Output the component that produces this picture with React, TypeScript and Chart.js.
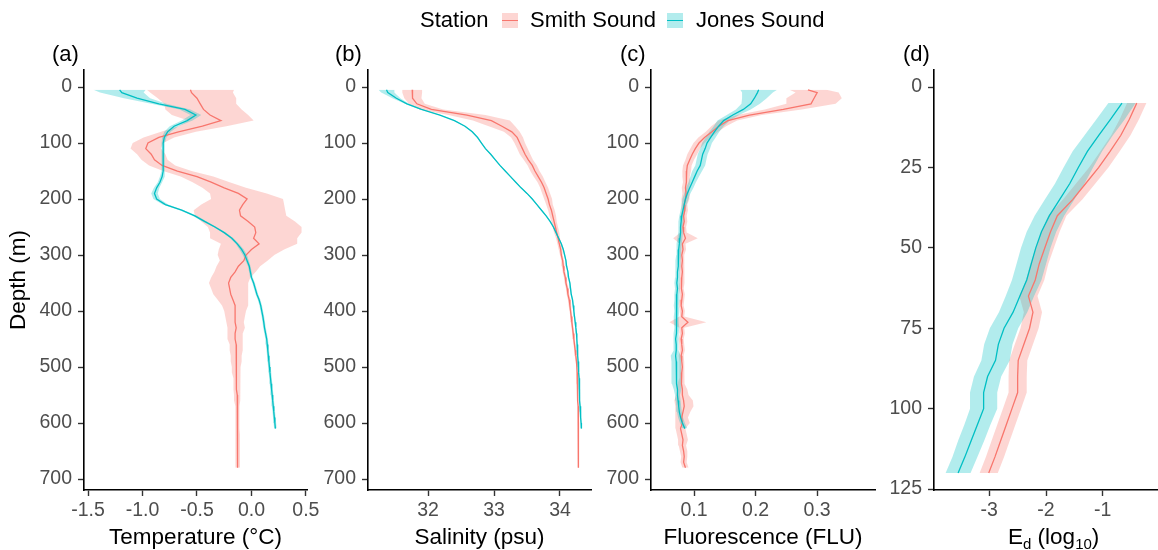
import React, { useEffect, useRef } from "react";
import { Chart, registerables } from "chart.js";

Chart.register(...registerables);
Chart.defaults.font.family = "'Liberation Sans', Arial, sans-serif";

const SMITH_COLOR = "#F8766D";
const JONES_COLOR = "#00BFC4";
const SMITH_FILL = "rgba(248,118,109,0.3)";
const JONES_FILL = "rgba(0,191,196,0.3)";

// ---------- depth grids (m) ----------
const depthSmith = [5, 10, 20, 30, 40, 50, 60, 70, 80, 90,
  100, 110, 120, 130, 140, 150, 160, 170, 180, 190,
  200, 210, 220, 230, 240, 250, 260, 270, 280, 290,
  300, 310, 320, 330, 340, 350, 360, 370, 380, 390,
  400, 410, 420, 430, 440, 450, 460, 470, 480, 490,
  500, 510, 520, 530, 540, 550, 560, 570, 580, 590,
  600, 610, 620, 630, 640, 650, 660, 670, 680];
const depthJones = [5, 10, 20, 30, 40, 50, 60, 70, 80, 90,
  100, 110, 120, 130, 140, 150, 160, 170, 180, 190,
  200, 210, 220, 230, 240, 250, 260, 270, 280, 290,
  300, 310, 320, 330, 340, 350, 360, 370, 380, 390,
  400, 410, 420, 430, 440, 450, 460, 470, 480, 490,
  500, 510, 520, 530, 540, 550, 560, 570, 580, 590,
  600, 610];
const depthEd = [5, 10, 15, 20, 25, 30, 35, 40, 45, 50, 55, 60,
  65, 70, 75, 80, 85, 90, 95, 100, 105, 110, 115, 120];

// ---------- (a) temperature ----------
const tempSmith = [-0.56, -0.55, -0.50, -0.47, -0.44, -0.38, -0.28, -0.45, -0.67, -0.85,
  -0.95, -0.97, -0.92, -0.89, -0.82, -0.68, -0.50, -0.37, -0.25, -0.12,
  -0.04, -0.08, -0.11, -0.10, -0.03, 0.03, 0.04, 0.02, 0.07, 0.00,
  -0.05, -0.07, -0.12, -0.15, -0.19, -0.21, -0.20, -0.19, -0.17, -0.15,
  -0.15, -0.15, -0.15, -0.14, -0.15, -0.15, -0.14, -0.14, -0.14, -0.14,
  -0.14, -0.14, -0.135, -0.135, -0.135, -0.13, -0.13, -0.13, -0.13, -0.13,
  -0.13, -0.13, -0.125, -0.125, -0.125, -0.125, -0.125, -0.125, -0.125];
const tempSmithSd = [0.40, 0.38, 0.36, 0.33, 0.35, 0.35, 0.30, 0.22, 0.16, 0.14,
  0.14, 0.14, 0.13, 0.12, 0.12, 0.13, 0.15, 0.17, 0.20, 0.26,
  0.33, 0.38, 0.42, 0.42, 0.43, 0.43, 0.42, 0.40, 0.35, 0.30,
  0.26, 0.22, 0.20, 0.19, 0.18, 0.18, 0.17, 0.16, 0.14, 0.12,
  0.10, 0.09, 0.08, 0.08, 0.07, 0.07, 0.06, 0.06, 0.05, 0.05,
  0.04, 0.04, 0.03, 0.03, 0.03, 0.03, 0.03, 0.02, 0.02, 0.02,
  0.02, 0.02, 0.02, 0.02, 0.02, 0.02, 0.02, 0.02, 0.02];
const tempJones = [-1.21, -1.19, -1.05, -0.85, -0.61, -0.51, -0.59, -0.71, -0.77, -0.80,
  -0.81, -0.81, -0.81, -0.81, -0.81, -0.81, -0.82, -0.84, -0.87, -0.89,
  -0.87, -0.79, -0.64, -0.52, -0.43, -0.335, -0.25, -0.18, -0.13, -0.09,
  -0.06, -0.04, -0.02, -0.01, 0.00, 0.02, 0.035, 0.05, 0.07, 0.085,
  0.095, 0.105, 0.113, 0.12, 0.13, 0.14, 0.145, 0.15, 0.155, 0.16,
  0.165, 0.17, 0.175, 0.18, 0.185, 0.19, 0.195, 0.20, 0.205, 0.21,
  0.215, 0.22];
const tempJonesSd = [0.24, 0.20, 0.12, 0.07, 0.05, 0.05, 0.05, 0.04, 0.03, 0.02,
  0.015, 0.015, 0.015, 0.015, 0.015, 0.015, 0.02, 0.02, 0.025, 0.03,
  0.03, 0.025, 0.02, 0.02, 0.02, 0.015, 0.015, 0.015, 0.015, 0.02,
  0.02, 0.015, 0.012, 0.012, 0.012, 0.012, 0.012, 0.012, 0.012, 0.012,
  0.012, 0.012, 0.012, 0.012, 0.012, 0.012, 0.012, 0.012, 0.012, 0.012,
  0.012, 0.012, 0.012, 0.012, 0.012, 0.012, 0.012, 0.012, 0.012, 0.012,
  0.012, 0.012];

// ---------- (b) salinity ----------
const salSmith = [31.76, 31.76, 31.77, 31.83, 32.05, 32.59, 32.96, 33.12, 33.27, 33.35,
  33.39, 33.43, 33.47, 33.52, 33.58, 33.62, 33.67, 33.72, 33.76, 33.79,
  33.82, 33.84, 33.87, 33.89, 33.91, 33.93, 33.95, 33.97, 33.99, 34.01,
  34.02, 34.04, 34.05, 34.06, 34.08, 34.09, 34.11, 34.12, 34.14, 34.15,
  34.16, 34.17, 34.18, 34.19, 34.20, 34.21, 34.22, 34.23, 34.24, 34.25,
  34.255, 34.26, 34.26, 34.265, 34.27, 34.27, 34.27, 34.275, 34.275, 34.275,
  34.28, 34.28, 34.28, 34.28, 34.28, 34.28, 34.28, 34.28, 34.28];
const salSmithSd = [0.15, 0.15, 0.13, 0.12, 0.18, 0.28, 0.28, 0.20, 0.12, 0.09,
  0.08, 0.08, 0.08, 0.07, 0.07, 0.07, 0.07, 0.06, 0.06, 0.06,
  0.06, 0.05, 0.05, 0.05, 0.04, 0.04, 0.04, 0.03, 0.03, 0.03,
  0.02, 0.02, 0.02, 0.02, 0.02, 0.02, 0.02, 0.02, 0.02, 0.02,
  0.015, 0.015, 0.015, 0.015, 0.015, 0.015, 0.015, 0.015, 0.015, 0.015,
  0.01, 0.01, 0.01, 0.01, 0.01, 0.01, 0.01, 0.01, 0.01, 0.01,
  0.01, 0.01, 0.01, 0.01, 0.01, 0.01, 0.01, 0.01, 0.01];
const salJones = [31.37, 31.39, 31.52, 31.68, 31.90, 32.18, 32.40, 32.56, 32.67, 32.75,
  32.81, 32.87, 32.95, 33.02, 33.09, 33.17, 33.25, 33.33, 33.41, 33.50,
  33.58, 33.65, 33.72, 33.79, 33.85, 33.90, 33.94, 33.98, 34.02, 34.05,
  34.07, 34.09, 34.10, 34.12, 34.13, 34.15, 34.16, 34.17, 34.19, 34.20,
  34.21, 34.22, 34.23, 34.24, 34.25, 34.255, 34.26, 34.265, 34.27, 34.275,
  34.28, 34.285, 34.29, 34.29, 34.295, 34.30, 34.30, 34.305, 34.31, 34.315,
  34.32, 34.325];
const salJonesSd = [0.12, 0.10, 0.06, 0.03, 0.02, 0.015, 0.015, 0.015, 0.015, 0.015,
  0.01, 0.01, 0.01, 0.01, 0.01, 0.01, 0.01, 0.01, 0.01, 0.01,
  0.01, 0.01, 0.01, 0.01, 0.01, 0.01, 0.01, 0.01, 0.01, 0.01,
  0.01, 0.01, 0.01, 0.01, 0.01, 0.01, 0.01, 0.01, 0.01, 0.01,
  0.01, 0.01, 0.01, 0.01, 0.01, 0.01, 0.01, 0.01, 0.01, 0.01,
  0.01, 0.01, 0.01, 0.01, 0.01, 0.01, 0.01, 0.01, 0.01, 0.01,
  0.01, 0.01];

// ---------- (c) fluorescence ----------
const fluSmith = [0.285, 0.300, 0.295, 0.290, 0.245, 0.190, 0.155, 0.140, 0.129, 0.117,
  0.108, 0.102, 0.097, 0.093, 0.089, 0.088, 0.087, 0.088, 0.086, 0.087,
  0.086, 0.084, 0.085, 0.083, 0.084, 0.082, 0.083, 0.086, 0.081, 0.082,
  0.080, 0.081, 0.080, 0.081, 0.080, 0.080, 0.079, 0.081, 0.080, 0.079,
  0.081, 0.080, 0.090, 0.080, 0.081, 0.079, 0.080, 0.081, 0.079, 0.080,
  0.081, 0.080, 0.080, 0.079, 0.081, 0.081, 0.083, 0.084, 0.082, 0.080,
  0.081, 0.078, 0.080, 0.082, 0.081, 0.083, 0.084, 0.083, 0.086];
const fluSmithSd = [0.030, 0.035, 0.045, 0.040, 0.030, 0.020, 0.015, 0.012, 0.010, 0.010,
  0.009, 0.008, 0.008, 0.007, 0.007, 0.007, 0.006, 0.006, 0.006, 0.006,
  0.006, 0.005, 0.005, 0.005, 0.005, 0.005, 0.005, 0.020, 0.005, 0.005,
  0.004, 0.004, 0.004, 0.004, 0.004, 0.004, 0.004, 0.004, 0.004, 0.004,
  0.004, 0.004, 0.030, 0.004, 0.004, 0.004, 0.004, 0.004, 0.004, 0.004,
  0.004, 0.004, 0.004, 0.006, 0.008, 0.010, 0.015, 0.015, 0.012, 0.010,
  0.012, 0.008, 0.008, 0.008, 0.006, 0.006, 0.005, 0.005, 0.005];
const fluJones = [0.205, 0.203, 0.198, 0.192, 0.180, 0.163, 0.148, 0.140, 0.133, 0.127,
  0.121, 0.118, 0.114, 0.112, 0.110, 0.105, 0.101, 0.097, 0.093, 0.089,
  0.086, 0.084, 0.082, 0.080, 0.079, 0.078, 0.078, 0.077, 0.076, 0.075,
  0.075, 0.074, 0.074, 0.073, 0.073, 0.072, 0.073, 0.072, 0.072, 0.071,
  0.072, 0.071, 0.071, 0.072, 0.071, 0.070, 0.071, 0.071, 0.070, 0.071,
  0.071, 0.072, 0.071, 0.072, 0.073, 0.073, 0.074, 0.075, 0.076, 0.078,
  0.081, 0.085];
const fluJonesSd = [0.030, 0.025, 0.020, 0.015, 0.012, 0.010, 0.010, 0.008, 0.008, 0.008,
  0.008, 0.008, 0.008, 0.008, 0.008, 0.008, 0.007, 0.006, 0.006, 0.005,
  0.005, 0.004, 0.004, 0.004, 0.004, 0.004, 0.004, 0.004, 0.004, 0.004,
  0.004, 0.004, 0.004, 0.004, 0.004, 0.004, 0.004, 0.004, 0.004, 0.004,
  0.004, 0.004, 0.004, 0.004, 0.004, 0.004, 0.004, 0.004, 0.008, 0.008,
  0.008, 0.008, 0.008, 0.008, 0.006, 0.004, 0.004, 0.004, 0.004, 0.004,
  0.004, 0.004];

// ---------- (d) downwelling irradiance ----------
const edSmith = [-0.40, -0.53, -0.68, -0.87, -1.07, -1.30, -1.53, -1.80, -1.92, -2.02, -2.12, -2.19,
  -2.31, -2.23, -2.29, -2.39, -2.49, -2.50, -2.50, -2.60, -2.70, -2.80, -2.90, -3.01];
const edSmithSd = [0.17, 0.17, 0.17, 0.17, 0.17, 0.17, 0.17, 0.16, 0.16, 0.16, 0.16, 0.16,
  0.16, 0.16, 0.16, 0.16, 0.16, 0.16, 0.16, 0.16, 0.16, 0.16, 0.16, 0.16];
const edJones = [-0.66, -0.86, -1.07, -1.27, -1.43, -1.58, -1.76, -1.94, -2.08, -2.18, -2.26, -2.34,
  -2.46, -2.58, -2.74, -2.84, -2.89, -3.03, -3.10, -3.10, -3.21, -3.32, -3.43, -3.55];
const edJonesSd = [0.24, 0.25, 0.25, 0.26, 0.26, 0.26, 0.26, 0.26, 0.26, 0.26, 0.26, 0.26,
  0.25, 0.25, 0.25, 0.25, 0.25, 0.24, 0.24, 0.24, 0.23, 0.23, 0.22, 0.22];

// ---------- ticks ----------
const depthTicks = [0, 100, 200, 300, 400, 500, 600, 700];
const edDepthTicks = [0, 25, 50, 75, 100, 125];
const tempTicks = [-1.5, -1.0, -0.5, 0.0, 0.5];
const salTicks = [32, 33, 34];
const fluTicks = [0.1, 0.2, 0.3];
const edTicks = [-3, -2, -1];

type Series = { depth: number[]; val: number[]; sd: number[]; color: string; fill: string };
type PanelSpec = {
  padLeft: number; left: number; right: number;
  xMin: number; xMax: number; xTicks: number[]; xDigits: number;
  yMin: number; yMax: number; yTicks: number[];
  xTitle?: string; yTitle?: string;
  smith: Series; jones: Series;
};

const W = 1158;
const H = 550;
const TOP = 70;
const XAXIS_H = 60;
const TITLE_SIZE = 22.5;

function buildDatasets(spec: PanelSpec) {
  const line = (s: Series) => ({
    data: s.depth.map((d, i) => ({ x: s.val[i], y: d })),
    borderColor: s.color, borderWidth: 1.3, fill: false, pointRadius: 0, order: 1,
  });
  const lower = (s: Series) => ({
    data: s.depth.map((d, i) => ({ x: s.val[i] - s.sd[i], y: d })),
    borderWidth: 0, borderColor: "rgba(0,0,0,0)", fill: false, pointRadius: 0, order: 2,
  });
  const upper = (s: Series) => ({
    data: s.depth.map((d, i) => ({ x: s.val[i] + s.sd[i], y: d })),
    borderWidth: 0, borderColor: "rgba(0,0,0,0)", backgroundColor: s.fill, fill: "-1", pointRadius: 0, order: 2,
  });
  return [line(spec.jones), line(spec.smith), lower(spec.jones), upper(spec.jones), lower(spec.smith), upper(spec.smith)];
}

function makeConfig(spec: PanelSpec): any {
  const tickFont = { size: 19.5 };
  return {
    type: "line",
    data: { datasets: buildDatasets(spec) },
    options: {
      animation: false,
      responsive: false,
      maintainAspectRatio: false,
      indexAxis: "y",
      events: [],
      layout: { padding: { left: spec.padLeft, right: W - spec.right, top: TOP, bottom: 0 } },
      elements: { line: { tension: 0 }, point: { radius: 0 } },
      plugins: { legend: { display: false }, tooltip: { enabled: false }, filler: { drawTime: "beforeDatasetsDraw" } },
      scales: {
        x: {
          type: "linear", position: "bottom", min: spec.xMin, max: spec.xMax,
          afterBuildTicks: (s: any) => { s.ticks = spec.xTicks.map((v) => ({ value: v })); },
          afterFit: (s: any) => { s.height = XAXIS_H; },
          grid: { drawOnChartArea: false, drawTicks: true, tickLength: 6, color: "#333333", tickWidth: 1.4 },
          border: { display: true, color: "#000000", width: 1.6 },
          ticks: { color: "#4D4D4D", font: tickFont, padding: 3, maxRotation: 0, autoSkip: false,
            callback: (v: any) => Number(v).toFixed(spec.xDigits) },
          title: spec.xTitle ? { display: true, text: spec.xTitle, color: "#000000", font: { size: TITLE_SIZE, lineHeight: 1 }, padding: { top: 0, bottom: 0.5 } } : { display: false },
        },
        y: {
          type: "linear", position: "left", reverse: true, min: spec.yMin, max: spec.yMax,
          afterBuildTicks: (s: any) => { s.ticks = spec.yTicks.map((v) => ({ value: v })); },
          afterFit: (s: any) => { s.width = spec.left - spec.padLeft; },
          grid: { drawOnChartArea: false, drawTicks: true, tickLength: 6, color: "#333333", tickWidth: 1.4 },
          border: { display: true, color: "#000000", width: 1.6 },
          ticks: { color: "#4D4D4D", font: tickFont, padding: 6, autoSkip: false,
            callback: (v: any) => String(Number(v)) },
          title: spec.yTitle ? { display: true, text: spec.yTitle, color: "#000000", font: { size: TITLE_SIZE, lineHeight: 1 }, padding: { top: 8, bottom: 0 } } : { display: false },
        },
      },
    },
  };
}

const panels: PanelSpec[] = [
  {
    padLeft: 0, left: 84, right: 307,
    xMin: -1.537, xMax: 0.51, xTicks: tempTicks, xDigits: 1,
    yMin: -30.4, yMax: 719.6, yTicks: depthTicks,
    xTitle: "Temperature (°C)", yTitle: "Depth (m)",
    smith: { depth: depthSmith, val: tempSmith, sd: tempSmithSd, color: SMITH_COLOR, fill: SMITH_FILL },
    jones: { depth: depthJones, val: tempJones, sd: tempJonesSd, color: JONES_COLOR, fill: JONES_FILL },
  },
  {
    padLeft: 308, left: 368, right: 591,
    xMin: 31.09, xMax: 34.47, xTicks: salTicks, xDigits: 0,
    yMin: -30.4, yMax: 719.6, yTicks: depthTicks,
    xTitle: "Salinity (psu)",
    smith: { depth: depthSmith, val: salSmith, sd: salSmithSd, color: SMITH_COLOR, fill: SMITH_FILL },
    jones: { depth: depthJones, val: salJones, sd: salJonesSd, color: JONES_COLOR, fill: JONES_FILL },
  },
  {
    padLeft: 591, left: 651, right: 875,
    xMin: 0.030, xMax: 0.394, xTicks: fluTicks, xDigits: 1,
    yMin: -30.4, yMax: 719.6, yTicks: depthTicks,
    xTitle: "Fluorescence (FLU)",
    smith: { depth: depthSmith, val: fluSmith, sd: fluSmithSd, color: SMITH_COLOR, fill: SMITH_FILL },
    jones: { depth: depthJones, val: fluJones, sd: fluJonesSd, color: JONES_COLOR, fill: JONES_FILL },
  },
  {
    padLeft: 874, left: 934, right: 1158,
    xMin: -3.975, xMax: -0.025, xTicks: edTicks, xDigits: 0,
    yMin: -5.3, yMax: 125.3, yTicks: edDepthTicks,
    smith: { depth: depthEd, val: edSmith, sd: edSmithSd, color: SMITH_COLOR, fill: SMITH_FILL },
    jones: { depth: depthEd, val: edJones, sd: edJonesSd, color: JONES_COLOR, fill: JONES_FILL },
  },
];

function Panel({ spec }: { spec: PanelSpec }) {
  const ref = useRef<HTMLCanvasElement | null>(null);
  useEffect(() => {
    if (!ref.current) return;
    const chart = new Chart(ref.current, makeConfig(spec));
    return () => chart.destroy();
  }, [spec]);
  return (
    <canvas ref={ref} width={W} height={H}
      style={{ position: "absolute", left: 0, top: 0, width: W, height: H }} />
  );
}

const FONT = "'Liberation Sans', Arial, sans-serif";
const panelLabels = [
  { text: "(a)", left: 52 },
  { text: "(b)", left: 335 },
  { text: "(c)", left: 620 },
  { text: "(d)", left: 903 },
];

function Swatch({ left, color, fill }: { left: number; color: string; fill: string }) {
  return (
    <div style={{ position: "absolute", left, top: 13, width: 16, height: 15, background: fill }}>
      <div style={{ position: "absolute", left: 0, top: 6.8, width: 16, height: 1.4, background: color }} />
    </div>
  );
}

export default function App() {
  const textBase: React.CSSProperties = {
    position: "absolute", fontFamily: FONT, fontSize: 22, lineHeight: "22px", color: "#000", whiteSpace: "nowrap",
  };
  return (
    <div style={{ position: "absolute", left: 0, top: 0, width: W, height: H, background: "#fff", overflow: "hidden" }}>
      {panels.map((p, i) => <Panel key={i} spec={p} />)}
      <span style={{ ...textBase, left: 420, top: 9 }}>Station</span>
      <Swatch left={502} color={SMITH_COLOR} fill={SMITH_FILL} />
      <span style={{ ...textBase, left: 530, top: 9 }}>Smith Sound</span>
      <Swatch left={667} color={JONES_COLOR} fill={JONES_FILL} />
      <span style={{ ...textBase, left: 696, top: 9 }}>Jones Sound</span>
      {panelLabels.map((l) => (
        <span key={l.text} style={{ ...textBase, left: l.left, top: 43 }}>{l.text}</span>
      ))}
      <span style={{ ...textBase, fontSize: TITLE_SIZE, left: 1008, top: 526 }}>
        E<span style={{ fontSize: 15, position: "relative", top: 5 }}>d</span> (log<span style={{ fontSize: 15, position: "relative", top: 5 }}>10</span>)
      </span>
    </div>
  );
}
